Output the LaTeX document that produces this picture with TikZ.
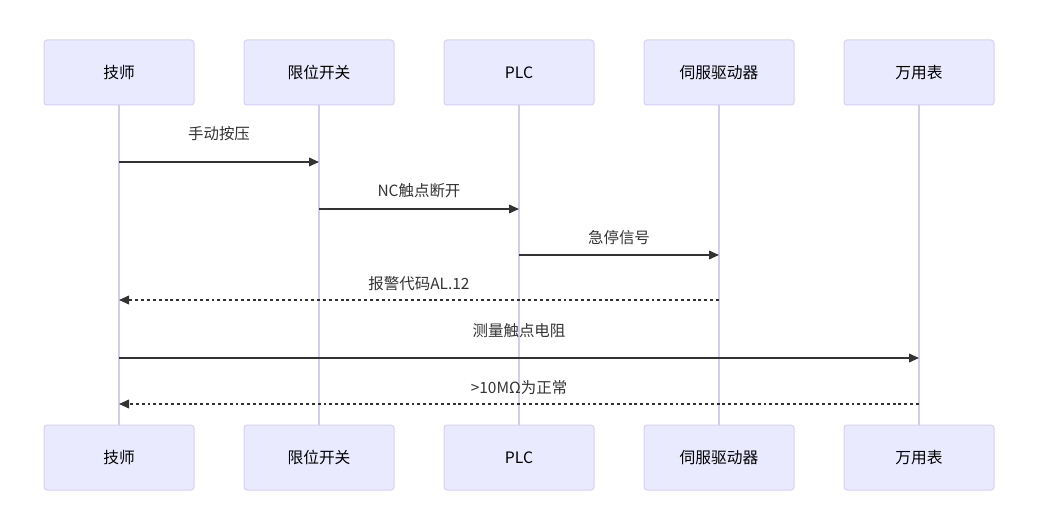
\documentclass[tikz,border=0pt]{standalone}
\usepackage{fontspec}
\setmainfont{Noto Sans CJK SC}
\usetikzlibrary{arrows.meta}
\definecolor{actfill}{HTML}{EAEAFF}
\definecolor{actborder}{HTML}{D6D0F5}
\definecolor{lifeline}{HTML}{D4CCF0}
\definecolor{msg}{HTML}{333333}
\begin{document}
\begin{tikzpicture}[x=0.75pt,y=-0.75pt,
  actor/.style={draw=actborder,fill=actfill,rounded corners=2.25pt,line width=0.75pt,
    minimum width=112.5pt,minimum height=48.75pt,inner sep=0pt,font=\fontsize{11.8}{13}\selectfont},
  life/.style={draw=lifeline,line width=1.2pt},
  solidmsg/.style={draw=msg,line width=1.2pt,-{Triangle[length=7.5pt,width=6.5pt]}},
  dashmsg/.style={draw=msg,line width=1.2pt,dash pattern=on 2.2pt off 2.2pt,-{Triangle[length=7.5pt,width=6.5pt]}},
  lbl/.style={font=\fontsize{11.6}{13}\selectfont,text=msg,inner sep=0pt}]
\useasboundingbox (0,0) rectangle (1041,516);
\foreach \n/\x/\t in {a/119/技师,b/319/限位开关,c/519/PLC,d/719/伺服驱动器,e/919/万用表}{
  \draw[life] (\x,105) -- (\x,425);
  \node[actor] (\n top) at (\x,72.5) {\t};
  \node[actor] (\n bot) at (\x,457.5) {\t};
}
\foreach \n/\x in {a/119,b/319,c/519,d/719,e/919}{
  \foreach \y/\k in {162/1,209/2,255/3,300/4,358/5,404/6}{
    \coordinate (\n\k) at (\x,\y);
  }
}
\draw[solidmsg] (a1) -- (b1);
\node[lbl] at (219,134) {手动按压};
\draw[solidmsg] (b2) -- (c2);
\node[lbl] at (419,191) {NC触点断开};
\draw[solidmsg] (c3) -- (d3);
\node[lbl] at (619,238) {急停信号};
\draw[dashmsg] (d4) -- (a4);
\node[lbl] at (419,284) {报警代码AL.12};
\draw[solidmsg] (a5) -- (e5);
\node[lbl] at (519,331) {测量触点电阻};
\draw[dashmsg] (e6) -- (a6);
\node[lbl] at (519,388) {>10MΩ为正常};
\end{tikzpicture}
\end{document}
